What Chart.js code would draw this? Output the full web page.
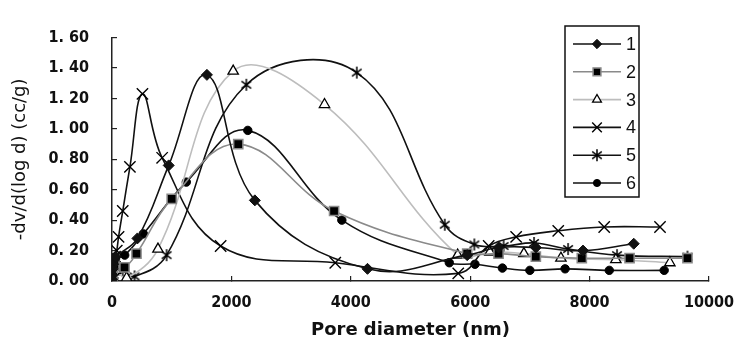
<!DOCTYPE html>
<html>
<head>
<meta charset="utf-8">
<script src="https://cdn.jsdelivr.net/npm/chart.js@4.4.0/dist/chart.umd.min.js"></script>
<style>
  html, body { margin: 0; padding: 0; background: #fff; }
</style>
</head>
<body>
<canvas id="poreChart" width="751" height="347"></canvas>
<script>
// Pore size distribution, six samples (x = pore diameter nm, y = -dv/d(log d))
const labels = ['1', '2', '3', '4', '5', '6'];

const s1x = [3, 6, 12, 20, 35, 60, 426, 950, 1590, 2393, 4280, 5950, 6475, 7100, 7890, 8740];
const s1y = [0.01, 0.04, 0.08, 0.11, 0.14, 0.16, 0.28, 0.76, 1.355, 0.53, 0.08, 0.17, 0.22, 0.22, 0.20, 0.245];

const s2x = [3, 6, 12, 20, 40, 210, 410, 1000, 2115, 3720, 5950, 6475, 7100, 7870, 8670, 9640];
const s2y = [0.01, 0.03, 0.06, 0.09, 0.11, 0.09, 0.18, 0.54, 0.90, 0.46, 0.18, 0.18, 0.16, 0.15, 0.15, 0.15];

const s3x = [3, 6, 12, 25, 60, 245, 770, 2030, 3560, 5790, 6330, 6900, 7520, 8440, 9345];
const s3y = [0.00, 0.02, 0.04, 0.06, 0.07, 0.02, 0.21, 1.38, 1.16, 0.17, 0.19, 0.18, 0.15, 0.14, 0.12];

const s4x = [3, 8, 15, 30, 50, 80, 110, 180, 300, 510, 840, 1820, 3740, 5800, 6310, 6770, 7475, 8245, 9180];
const s4y = [0.01, 0.04, 0.08, 0.12, 0.16, 0.20, 0.29, 0.46, 0.75, 1.23, 0.81, 0.23, 0.12, 0.05, 0.23, 0.29, 0.33, 0.355, 0.355];

const s5x = [3, 8, 15, 30, 60, 180, 377, 915, 2250, 4100, 5575, 6070, 6560, 7070, 7640, 8460, 9640];
const s5y = [0.00, 0.02, 0.05, 0.08, 0.10, 0.07, 0.03, 0.17, 1.29, 1.37, 0.37, 0.24, 0.23, 0.25, 0.21, 0.17, 0.16];

const s6x = [3, 8, 15, 30, 60, 213, 525, 1245, 2275, 3850, 5650, 6080, 6540, 7000, 7590, 8330, 9250];
const s6y = [0.02, 0.06, 0.10, 0.13, 0.15, 0.17, 0.31, 0.65, 0.99, 0.40, 0.12, 0.11, 0.085, 0.07, 0.08, 0.07, 0.07];

const xTicks = [0, 2000, 4000, 6000, 8000, 10000];

function pts(xs, ys) {
    return xs.map((x, i) => ({ x: x, y: ys[i] }));
}

// six-armed asterisk marker for series 5
function asterisk(size) {
    const c = document.createElement('canvas');
    c.width = size; c.height = size;
    const g = c.getContext('2d');
    const m = size / 2, r = size / 2 - 1;
    g.strokeStyle = '#000';
    g.lineWidth = 1.5;
    g.beginPath();
    g.moveTo(m, m - r); g.lineTo(m, m + r);
    g.moveTo(m - r * 0.8, m - r * 0.6); g.lineTo(m + r * 0.8, m + r * 0.6);
    g.moveTo(m + r * 0.8, m - r * 0.6); g.lineTo(m - r * 0.8, m + r * 0.6);
    g.stroke();
    return c;
}
const starImg = asterisk(14);

const fontTick = "'DejaVu Sans Condensed', 'DejaVu Sans', sans-serif";
const fontTitle = "'DejaVu Sans', sans-serif";

function makeSet(i, xs, ys, line, style, radius, bg, border, bw) {
    return {
        label: labels[i],
        data: pts(xs, ys),
        borderColor: line,
        borderWidth: 1.6,
        tension: 0.4,
        pointStyle: style,
        pointRadius: radius,
        pointHoverRadius: radius,
        pointBackgroundColor: bg,
        pointBorderColor: border,
        pointBorderWidth: bw,
        fill: false
    };
}

const datasets = [
    makeSet(0, s1x, s1y, '#111', 'rectRot', 5.5, '#111', '#111', 1),
    makeSet(1, s2x, s2y, '#8a8a8a', 'rect', 6.5, '#000', '#8a8a8a', 1.5),
    makeSet(2, s3x, s3y, '#bdbdbd', 'triangle', 6, '#fff', '#000', 1.3),
    makeSet(3, s4x, s4y, '#111', 'crossRot', 8, '#000', '#000', 1.4),
    makeSet(4, s5x, s5y, '#111', starImg, 7, '#000', '#000', 1.4),
    makeSet(5, s6x, s6y, '#111', 'circle', 4.2, '#000', '#000', 1)
];

// legend box drawn inside the plot, line sample + marker + number
const boxLegend = {
    id: 'boxLegend',
    afterDraw(chart) {
        const ctx = chart.ctx;
        const left = 565, top = 26, w = 74, h = 171, rowY = 44, rowH = 27.8;
        ctx.save();
        ctx.fillStyle = '#fff';
        ctx.fillRect(left, top, w, h);
        ctx.strokeStyle = '#111';
        ctx.lineWidth = 1.5;
        ctx.strokeRect(left, top, w, h);
        chart.data.datasets.forEach((ds, i) => {
            const y = rowY + i * rowH;
            ctx.strokeStyle = ds.borderColor;
            ctx.lineWidth = ds.borderWidth;
            ctx.beginPath();
            ctx.moveTo(573, y);
            ctx.lineTo(621, y);
            ctx.stroke();
            ctx.fillStyle = ds.pointBackgroundColor;
            ctx.strokeStyle = ds.pointBorderColor;
            ctx.lineWidth = ds.pointBorderWidth;
            Chart.helpers.drawPoint(ctx, {
                pointStyle: ds.pointStyle,
                radius: ds.pointRadius * 0.85,
                rotation: 0,
                borderWidth: ds.pointBorderWidth
            }, 597, y);
            ctx.fillStyle = '#111';
            ctx.font = "18px 'Liberation Sans', Arial, sans-serif";
            ctx.textAlign = 'left';
            ctx.textBaseline = 'middle';
            ctx.fillText(ds.label, 626, y + 1);
        });
        ctx.restore();
    }
};

const ctx = document.getElementById('poreChart').getContext('2d');
const poreChart = new Chart(ctx, {
    type: 'line',
    data: { datasets: datasets },
    options: {
        responsive: false,
        animation: false,
        layout: { padding: { top: 19, right: 29, left: 0, bottom: 0 } },
        plugins: {
            legend: { display: false },
            tooltip: { enabled: false }
        },
        scales: {
            x: {
                type: 'linear',
                min: 0,
                max: 10000,
                afterFit(scale) { scale.height = 66; },
                afterBuildTicks(scale) { scale.ticks = xTicks.map(v => ({ value: v })); },
                ticks: {
                    padding: 17,
                    color: '#111',
                    font: { family: fontTick, size: 16, weight: 'bold' },
                    callback: v => String(v)
                },
                grid: {
                    drawOnChartArea: false,
                    drawTicks: true,
                    tickLength: -5,
                    color: '#222',
                    lineWidth: 1.2
                },
                border: { color: '#222', width: 1.5 },
                title: {
                    display: true,
                    text: 'Pore diameter (nm)',
                    color: '#111',
                    padding: { top: 0, bottom: 6 },
                    font: { family: fontTitle, size: 18, weight: 'bold' }
                }
            },
            y: {
                min: 0,
                max: 1.6,
                afterFit(scale) { scale.width = 112; },
                ticks: {
                    stepSize: 0.2,
                    padding: 28,
                    color: '#111',
                    font: { family: fontTick, size: 16, weight: 'bold' },
                    callback: v => v.toFixed(2).replace('.', '. ')
                },
                grid: {
                    drawOnChartArea: false,
                    drawTicks: true,
                    tickLength: -5,
                    color: '#222',
                    lineWidth: 1.2
                },
                border: { color: '#222', width: 1.5 },
                title: {
                    display: true,
                    text: '-dv/d(log d) (cc/g)',
                    color: '#111',
                    padding: { top: 10, bottom: 0 },
                    font: { family: fontTitle, size: 18 }
                }
            }
        }
    },
    plugins: [boxLegend]
});
</script>
</body>
</html>
